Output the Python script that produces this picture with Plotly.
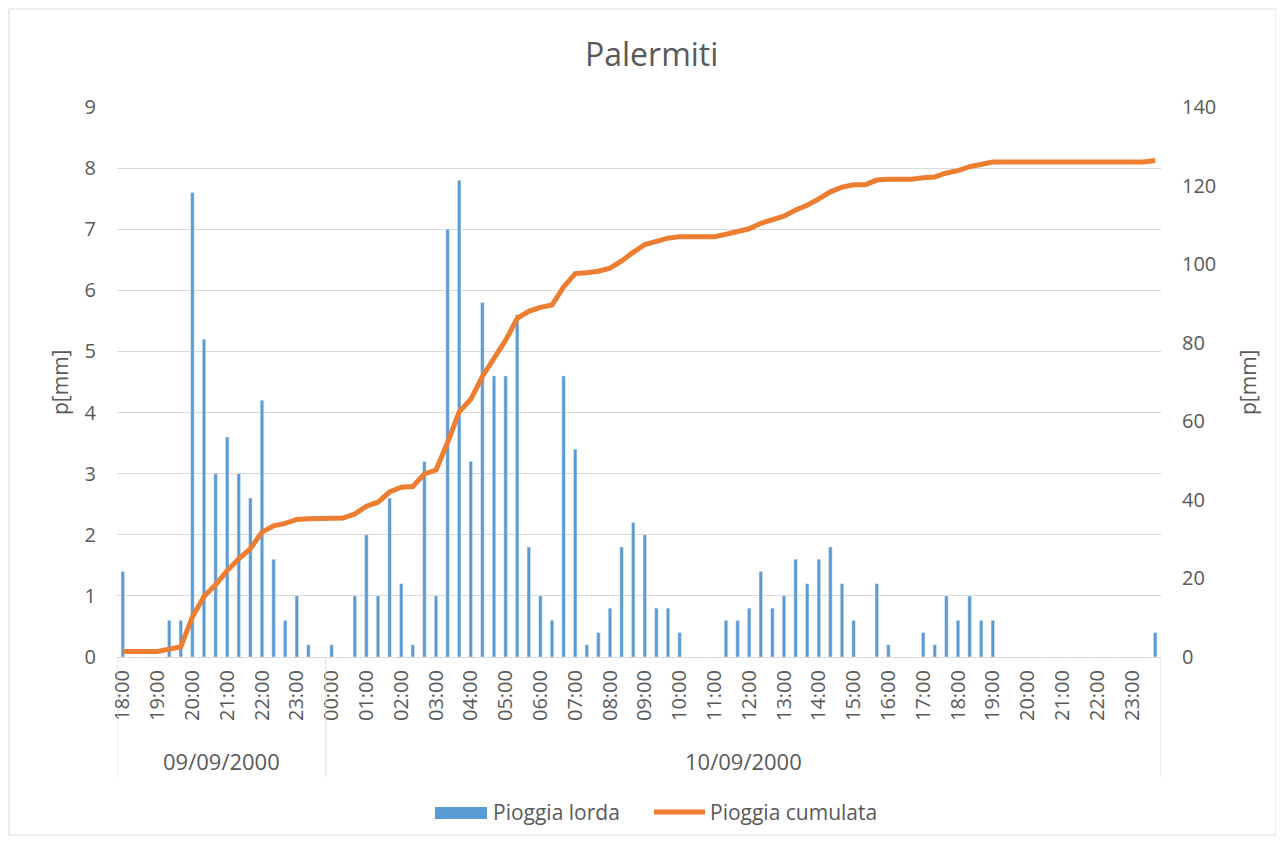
import plotly.graph_objects as go

# 20-minute rainfall records, Palermiti station
dates = ["09/09/2000", "10/09/2000"]
first_slot = {"09/09/2000": 18 * 3, "10/09/2000": 0}  # first 20-min slot of each day

pioggia_lorda = [
    1.4, 0, 0, 0, 0.6, 0.6, 7.6, 5.2, 3.0, 3.6, 3.0, 2.6, 4.2, 1.6, 0.6, 1.0, 0.2, 0,
    0.2, 0, 1.0, 2.0, 1.0, 2.6, 1.2, 0.2, 3.2, 1.0, 7.0, 7.8, 3.2, 5.8, 4.6, 4.6, 5.6, 1.8,
    1.0, 0.6, 4.6, 3.4, 0.2, 0.4, 0.8, 1.8, 2.2, 2.0, 0.8, 0.8, 0.4, 0, 0, 0,
    0.6, 0.6, 0.8, 1.4, 0.8, 1.0, 1.6, 1.2, 1.6, 1.8, 1.2, 0.6, 0, 1.2, 0.2, 0,
    0, 0.4, 0.2, 1.0, 0.6, 1.0, 0.6, 0.6, 0, 0, 0, 0, 0, 0, 0, 0, 0, 0, 0, 0, 0, 0.4,
]

pioggia_cumulata = [
    1.4, 1.4, 1.4, 1.4, 2.0, 2.6, 10.2, 15.4, 18.4, 22.0, 25.0, 27.6, 31.8, 33.4, 34.0, 35.0, 35.2, 35.2,
    35.4, 35.4, 36.4, 38.4, 39.4, 42.0, 43.2, 43.4, 46.6, 47.6, 54.6, 62.4, 65.6, 71.4, 76.0, 80.6, 86.2, 88.0,
    89.0, 89.6, 94.2, 97.6, 97.8, 98.2, 99.0, 100.8, 103.0, 105.0, 105.8, 106.6, 107.0, 107.0, 107.0, 107.0,
    107.6, 108.2, 109.0, 110.4, 111.2, 112.2, 113.8, 115.0, 116.6, 118.4, 119.6, 120.2, 120.2, 121.4, 121.6, 121.6,
    121.6, 122.0, 122.2, 123.2, 123.8, 124.8, 125.4, 126.0, 126.0, 126.0, 126.0, 126.0, 126.0, 126.0, 126.0,
    126.0, 126.0, 126.0, 126.0, 126.0, 126.0, 126.4,
]

# category labels: date + HH:MM every 20 minutes
cats, tickvals, ticktext, group_idx = [], [], [], []
for d in dates:
    start = len(cats)
    for s in range(first_slot[d], 72):
        hh, mm = divmod(s * 20, 60)
        c = f"{d} {hh:02d}:{mm:02d}"
        cats.append(c)
        if mm == 0:
            tickvals.append(c)
            ticktext.append(f"{hh:02d}:00")
    group_idx.append((start, len(cats) - 1))

TXT = "#595959"
GRID = "#d9d9d9"
FONT = "Open Sans"

# page offset from the default body margin, and plot area in screen pixels
OFF = 8
L, R, T, B = 117, 1161, 107, 657
W_PX, H_PX = R - L, B - T
FIG_W, FIG_H = 1284 - OFF, 843 - OFF


def px_x(p):
    return (p - L) / W_PX


def px_y(p):
    return (B - p) / H_PX


def note(text, x, y, xref="paper", size=21, **kw):
    return dict(text=text, xref=xref, yref="paper", x=x, y=y, showarrow=False,
                xanchor=kw.pop("xanchor", "center"), yanchor="middle",
                font=dict(size=size, color=TXT), **kw)


fig = go.Figure()
fig.add_trace(go.Bar(x=cats, y=pioggia_lorda, name="Pioggia lorda",
                     marker_color="#5B9BD5", width=0.3))
fig.add_trace(go.Scatter(x=cats, y=pioggia_cumulata, name="Pioggia cumulata", yaxis="y2",
                         mode="lines", line=dict(color="#ED7D31", width=5)))

fig.update_layout(
    width=FIG_W, height=FIG_H,
    margin=dict(l=L - OFF, r=1284 - R, t=T - OFF, b=843 - B),
    paper_bgcolor="white", plot_bgcolor="white",
    font=dict(family=FONT, size=20, color=TXT),
    showlegend=False,
    xaxis=dict(type="category", categoryorder="array", categoryarray=cats,
               range=[-0.5, len(cats) - 0.5],
               tickvals=tickvals, ticktext=ticktext, tickangle=-90,
               showgrid=False, showline=True, linecolor=GRID, linewidth=1,
               ticks="", ticklabelstandoff=4, tickfont=dict(size=20, color=TXT)),
    yaxis=dict(range=[0, 9], dtick=1, showgrid=True, gridcolor=GRID, gridwidth=1,
               zeroline=False, showline=False, ticks="", ticklabelstandoff=20),
    yaxis2=dict(range=[0, 140], dtick=20, overlaying="y", side="right", showgrid=False,
                zeroline=False, showline=False, ticks="", ticklabelstandoff=20),
)

shapes = []
# chart border
shapes.append(dict(type="rect", xref="paper", yref="paper",
                   x0=px_x(9), x1=px_x(1276), y0=px_y(835), y1=px_y(9),
                   line=dict(color=GRID, width=1), layer="below"))
# date group dividers
for x in [-0.5, group_idx[0][1] + 0.5, len(cats) - 0.5]:
    shapes.append(dict(type="line", xref="x", yref="paper", x0=x, x1=x,
                       y0=0, y1=px_y(777), line=dict(color=GRID, width=1)))

annotations = []
for d, (a, b) in zip(dates, group_idx):
    annotations.append(note(d, (a + b) / 2, px_y(761), xref="x", size=22))

# title and axis titles
annotations.append(note("Palermiti", px_x(651), px_y(54), size=32))
annotations.append(note("p[mm]", px_x(60), px_y(383), textangle=-90))
annotations.append(note("p[mm]", px_x(1248), px_y(383), textangle=-90))

# legend drawn by hand to match the wide swatches
shapes.append(dict(type="rect", xref="paper", yref="paper",
                   x0=px_x(435), x1=px_x(487), y0=px_y(819), y1=px_y(807),
                   fillcolor="#5B9BD5", line=dict(width=0)))
shapes.append(dict(type="line", xref="paper", yref="paper",
                   x0=px_x(654), x1=px_x(705), y0=px_y(812), y1=px_y(812),
                   line=dict(color="#ED7D31", width=5)))
annotations.append(note("Pioggia lorda", px_x(491), px_y(812), xanchor="left"))
annotations.append(note("Pioggia cumulata", px_x(708), px_y(812), xanchor="left"))

fig.update_layout(shapes=shapes, annotations=annotations)

fig.write_html("out.html")
